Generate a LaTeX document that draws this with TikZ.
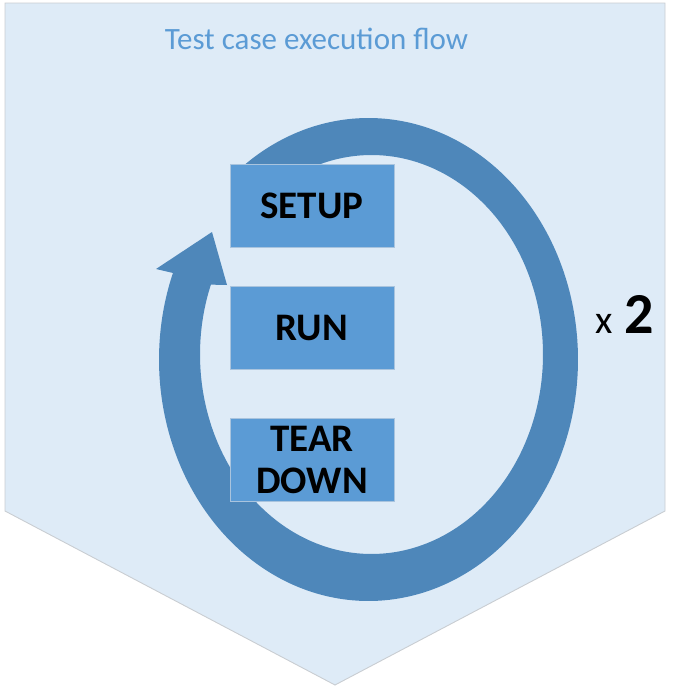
\documentclass[tikz,border=0pt]{standalone}
\usepackage{fontspec}
\setmainfont{Carlito}
\usetikzlibrary{positioning}
\definecolor{bgblue}{HTML}{DEEBF7}
\definecolor{bgline}{HTML}{C9CDD2}
\definecolor{ringblue}{HTML}{4E87BA}
\definecolor{boxblue}{HTML}{5B9BD5}
\definecolor{boxline}{HTML}{A9C4DE}
\definecolor{titleblue}{HTML}{5B9BD5}
\tikzset{
  stagebox/.style={draw=boxline, line width=0.8pt, fill=boxblue, minimum width=164pt, minimum height=83pt,
    inner sep=0pt, align=center, font=\bfseries\fontsize{39}{44}\selectfont, text=black},
  panel/.style={draw=bgline, line width=0.9pt, fill=bgblue},
  ring/.style={fill=ringblue, draw=none}
}
\begin{document}
\begin{tikzpicture}[x=1pt,y=-1pt]
\useasboundingbox (0,0) rectangle (686,696);
% background chevron panel
\draw[panel] (5,3) -- (665,3) -- (665,511) -- (335,685) -- (5,511) -- cycle;
% title
\node[anchor=base, text=titleblue, font=\fontsize{31}{36}\selectfont, inner sep=0pt] (title) at (316.5,49) {Test case execution flow};
% circular arrow
\fill[ring] plot[domain=130:-201, samples=120, smooth] ({368.5+209.5*cos(\x)},{359.5-241.5*sin(\x)})
  -- (156,269) -- (212,232) -- (227,285)
  -- plot[domain=-200.5:130, samples=120, smooth] ({371.5+171.5*cos(\x)},{354.5-199.5*sin(\x)}) -- cycle;
% stage boxes
\node[stagebox] (setup) at (312,205.5) {SETUP};
\node[stagebox] (run) at (312,327.5) {RUN};
\node[stagebox] (teardown) at (312,460) {TEAR\\[-2pt]DOWN};
% repeat count
\node[anchor=base west, inner sep=0pt, font=\fontsize{40}{48}\selectfont] (times) at (595,333) {x};
\node[anchor=base west, inner sep=0pt, font=\bfseries\fontsize{58}{70}\selectfont] (count) at (624,333) {2};
\end{tikzpicture}
\end{document}
